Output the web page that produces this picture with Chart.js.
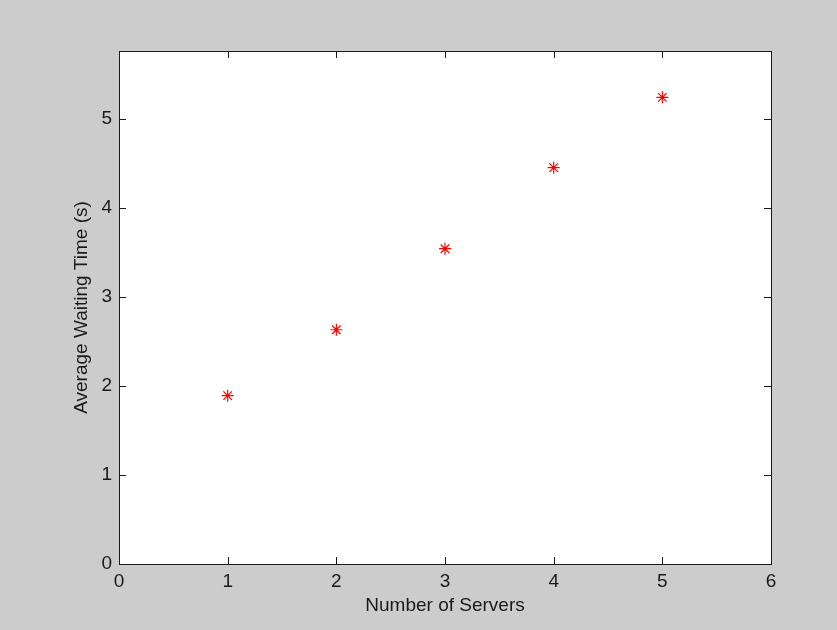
<!DOCTYPE html>
<html>
<head>
<meta charset="utf-8">
<script src="https://cdn.jsdelivr.net/npm/chart.js@4"></script>
<style>
    html, body { margin: 0; padding: 0; background: #cccccc; }
    #wrap { width: 837px; height: 630px; }
</style>
</head>
<body>
<div id="wrap"><canvas id="waiting"></canvas></div>
<script>
const servers = [1, 2, 3, 4, 5]
const waitTimes = [1.89, 2.63, 3.54, 4.45, 5.24]
const xTicks = [0, 1, 2, 3, 4, 5, 6]
const yTicks = [0, 1, 2, 3, 4, 5]

const fontFamily = '"Liberation Sans", Arial, Helvetica, sans-serif'
const inkColor = '#1a1a1a'

// white plot box, black frame and MATLAB style inward ticks on all four sides
const matlabBox = {
    id: 'matlabBox',
    beforeDraw(chart) {
        const { ctx, chartArea: a } = chart
        ctx.save()
        ctx.fillStyle = '#ffffff'
        ctx.fillRect(a.left, a.top, a.right - a.left, a.bottom - a.top)
        ctx.restore()
    },
    afterDraw(chart) {
        const { ctx, chartArea: a, scales } = chart
        const len = 7
        ctx.save()
        ctx.strokeStyle = inkColor
        ctx.lineWidth = 1
        ctx.beginPath()
        xTicks.forEach(v => {
            const x = Math.round(scales.x.getPixelForValue(v)) + 0.5
            ctx.moveTo(x, a.bottom); ctx.lineTo(x, a.bottom - len)
            ctx.moveTo(x, a.top); ctx.lineTo(x, a.top + len)
        })
        yTicks.forEach(v => {
            const y = Math.round(scales.y.getPixelForValue(v)) + 0.5
            ctx.moveTo(a.left, y); ctx.lineTo(a.left + len, y)
            ctx.moveTo(a.right, y); ctx.lineTo(a.right - len, y)
        })
        ctx.stroke()
        ctx.strokeRect(Math.round(a.left) + 0.5, Math.round(a.top) + 0.5,
            Math.round(a.right - a.left), Math.round(a.bottom - a.top))
        ctx.restore()
    }
}

const chart_wait = document.getElementById('waiting')
new Chart(chart_wait, {
    type: 'scatter',
    data: {
        datasets: [{
            data: servers.map((s, i) => ({ x: s, y: waitTimes[i] })),
            pointStyle: 'star',
            pointRadius: 6,
            pointHoverRadius: 6,
            borderColor: '#ff0000',
            backgroundColor: '#ff0000',
            borderWidth: 1.2,
            showLine: false
        }]
    },
    options: {
        responsive: true,
        maintainAspectRatio: false,
        animation: false,
        events: [],
        layout: {
            padding: { left: 0, top: 51, right: 66, bottom: 0 }
        },
        plugins: {
            legend: { display: false },
            tooltip: { enabled: false }
        },
        scales: {
            x: {
                type: 'linear',
                min: 0,
                max: 6,
                afterBuildTicks: scale => { scale.ticks = xTicks.map(v => ({ value: v })) },
                afterFit: scale => { scale.height = 66 },
                grid: { display: true, drawOnChartArea: false, drawTicks: false },
                border: { display: false },
                ticks: {
                    padding: 6,
                    color: inkColor,
                    font: { family: fontFamily, size: 19 }
                },
                title: {
                    display: true,
                    text: 'Number of Servers',
                    color: inkColor,
                    font: { family: fontFamily, size: 19 },
                    padding: { top: 0, bottom: 13 }
                }
            },
            y: {
                type: 'linear',
                min: 0,
                max: 5.76,
                afterBuildTicks: scale => { scale.ticks = yTicks.map(v => ({ value: v })) },
                afterFit: scale => { scale.width = 119 },
                grid: { display: true, drawOnChartArea: false, drawTicks: false },
                border: { display: false },
                ticks: {
                    padding: 7,
                    color: inkColor,
                    font: { family: fontFamily, size: 19 }
                },
                title: {
                    display: true,
                    text: 'Average Waiting Time (s)',
                    color: inkColor,
                    font: { family: fontFamily, size: 19 },
                    padding: { top: 70, bottom: 0 }
                }
            }
        }
    },
    plugins: [matlabBox]
})
</script>
</body>
</html>
